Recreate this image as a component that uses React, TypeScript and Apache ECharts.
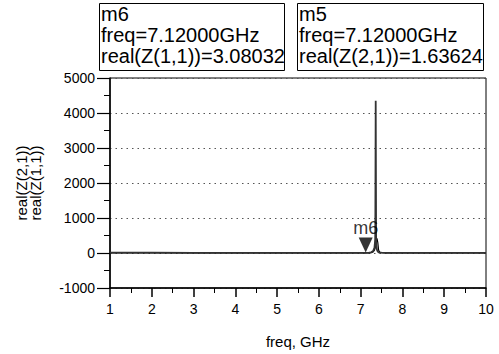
import React, { useEffect, useRef } from "react";
import * as echarts from "echarts";

const freqGHz = [1, 2, 3, 4, 5, 6, 6.5, 7, 7.12, 7.2, 7.25, 7.3, 7.33, 7.35, 7.36, 7.37, 7.39, 7.41, 7.43, 7.46, 7.5, 7.6, 8, 9, 10];
const realZ11 = [10, 8, 6, 5, 4, 4, 3, 3, 3.08, 8, 20, 60, 150, 400, 4350, 300, 90, 40, 20, 12, 8, 5, 4, 3, 2];
const realZ21 = [6, 5, 4, 3, 3, 2, 2, 2, 1.64, 5, 10, 30, 80, 150, 850, 380, 420, 300, 80, 20, 10, 5, 3, 2, 1];
const yTicks = [-1000, 0, 1000, 2000, 3000, 4000, 5000];
const xTicks = [1, 2, 3, 4, 5, 6, 7, 8, 9, 10];
const markerFreq = 7.12;
const markerZ11 = 3.08032;
const markerZ21 = 1.63624;

const font = "'Liberation Sans', Arial, sans-serif";

export default function App() {
  const ref = useRef<HTMLDivElement>(null);
  useEffect(() => {
    const chart = echarts.init(ref.current!, null, { renderer: "svg" });
    const pairs = (vals: number[]) => freqGHz.map((f, i) => [f, vals[i]]);
    chart.setOption({
      animation: false,
      grid: {
        left: 110,
        right: 13,
        top: 78,
        bottom: 66,
        show: true,
        borderColor: "#000",
        borderWidth: 1,
      },
      xAxis: {
        type: "value",
        min: xTicks[0],
        max: xTicks[xTicks.length - 1],
        interval: 1,
        name: "freq, GHz",
        nameLocation: "middle",
        nameGap: 46,
        nameTextStyle: { fontFamily: font, fontSize: 15, color: "#000" },
        axisLine: { show: true, onZero: false, lineStyle: { color: "#000", width: 1.5 } },
        axisTick: { show: true, length: 9, lineStyle: { color: "#000", width: 1.5 } },
        minorTick: { show: true, splitNumber: 2, length: 5, lineStyle: { color: "#000" } },
        axisLabel: { fontFamily: font, fontSize: 14, color: "#000", margin: 14, formatter: (v: number) => String(v) },
        splitLine: { show: false },
      },
      yAxis: {
        type: "value",
        min: yTicks[0],
        max: yTicks[yTicks.length - 1],
        interval: 1000,
        name: "real(Z(2,1))\nreal(Z(1,1))",
        nameLocation: "middle",
        nameRotate: 90,
        nameGap: 68,
        nameTextStyle: { fontFamily: font, fontSize: 15, color: "#000", lineHeight: 14 },
        axisLine: { show: true, onZero: false, lineStyle: { color: "#000", width: 1.5 } },
        axisTick: { show: true, length: 13, lineStyle: { color: "#000", width: 1.2 } },
        minorTick: { show: true, splitNumber: 2, length: 6, lineStyle: { color: "#000" } },
        axisLabel: { fontFamily: font, fontSize: 14, color: "#000", margin: 15, formatter: (v: number) => String(v) },
        splitLine: { show: true, lineStyle: { color: "#555", type: [1.5, 4], width: 1 } },
      },
      series: [
        {
          name: "real(Z(2,1))",
          type: "line",
          data: pairs(realZ21),
          showSymbol: false,
          lineStyle: { color: "#000", width: 1.2 },
        },
        {
          name: "real(Z(1,1))",
          type: "line",
          data: pairs(realZ11),
          showSymbol: false,
          lineStyle: { color: "#333", width: 1.8 },
        },
        {
          name: "m6",
          type: "scatter",
          data: [[markerFreq, markerZ11]],
          symbol: "triangle",
          symbolRotate: 180,
          symbolSize: [14, 15],
          symbolOffset: [0, -8],
          itemStyle: { color: "#000" },
          label: {
            show: true,
            position: "top",
            distance: 0,
            formatter: "m6",
            fontFamily: font,
            fontSize: 18,
            color: "#000",
          },
          z: 10,
        },
      ],
      graphic: [
        {
          type: "rect",
          shape: { x: 99.5, y: 3.5, width: 185, height: 67 },
          style: { fill: "#fff", stroke: "#000", lineWidth: 1 },
        },
        {
          type: "text",
          x: 101,
          y: 3,
          style: {
            text: `m6\nfreq=${markerFreq.toFixed(5)}GHz\nreal(Z(1,1))=${markerZ11.toFixed(5)}`,
            fontFamily: font,
            fontSize: 20,
            lineHeight: 21,
            fill: "#000",
          },
        },
        {
          type: "rect",
          shape: { x: 297.5, y: 3.5, width: 186, height: 67 },
          style: { fill: "#fff", stroke: "#000", lineWidth: 1 },
        },
        {
          type: "text",
          x: 299,
          y: 3,
          style: {
            text: `m5\nfreq=${markerFreq.toFixed(5)}GHz\nreal(Z(2,1))=${markerZ21.toFixed(5)}`,
            fontFamily: font,
            fontSize: 20,
            lineHeight: 21,
            fill: "#000",
          },
        },
      ],
    });
    return () => chart.dispose();
  }, []);
  return <div ref={ref} style={{ width: 499, height: 354, position: "absolute", left: 0, top: 0 }} />;
}
